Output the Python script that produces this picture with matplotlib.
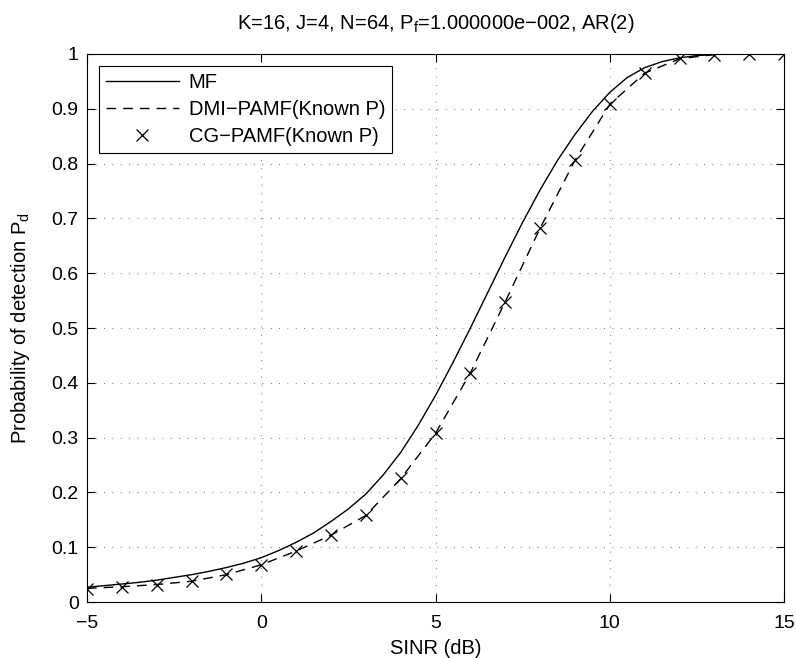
import numpy as np
import matplotlib.pyplot as plt

plt.rcParams['font.family'] = ['Liberation Sans', 'DejaVu Sans']
plt.rcParams['mathtext.default'] = 'regular'

# MF curve (dense)
sinr_mf = [-5, -4.5, -4, -3.5, -3, -2.5, -2, -1.5, -1, -0.5, 0, 0.5, 1, 1.5, 2, 2.5,
           3, 3.5, 4, 4.5, 5, 5.5, 6, 6.5, 7, 7.5, 8, 8.5, 9, 9.5, 10, 10.5, 11,
           11.5, 12, 12.5, 13, 13.5, 14, 14.5, 15]
pd_mf = [0.027, 0.030, 0.033, 0.036, 0.040, 0.045, 0.050, 0.056, 0.063, 0.071, 0.081,
         0.094, 0.109, 0.126, 0.147, 0.170, 0.197, 0.232, 0.273, 0.322, 0.377, 0.437,
         0.500, 0.565, 0.630, 0.693, 0.752, 0.806, 0.853, 0.895, 0.930, 0.957, 0.975,
         0.986, 0.993, 0.997, 0.999, 1.0, 1.0, 1.0, 1.0]

# DMI-PAMF and CG-PAMF (integer SINR points)
sinr = [-5, -4, -3, -2, -1, 0, 1, 2, 3, 4, 5, 6, 7, 8, 9, 10, 11, 12, 13, 14, 15]
pd_dmi = [0.025, 0.028, 0.032, 0.038, 0.050, 0.068, 0.093, 0.122, 0.158, 0.225, 0.308,
          0.418, 0.548, 0.682, 0.806, 0.908, 0.965, 0.991, 0.999, 1.0, 1.0]
pd_cg = [0.024, 0.028, 0.032, 0.038, 0.051, 0.068, 0.094, 0.123, 0.159, 0.226, 0.308,
         0.418, 0.548, 0.682, 0.806, 0.908, 0.966, 0.992, 0.999, 1.0, 1.0]

fig = plt.figure(figsize=(7.96, 6.58), dpi=100)
ax = fig.add_axes([0.1093, 0.085, 0.8757, 0.833])

ax.plot(sinr_mf, pd_mf, color='black', linewidth=1.0, label='MF')
ax.plot(sinr, pd_dmi, color='black', linewidth=1.0, linestyle=(0, (7, 5)),
        label='DMI\u2212PAMF(Known P)')
ax.plot(sinr, pd_cg, color='black', linestyle='none', marker='x', markersize=9,
        markeredgewidth=0.9, label='CG\u2212PAMF(Known P)')

ax.set_xlim(-5, 15)
ax.set_ylim(0, 1)
ax.set_xticks([-5, 0, 5, 10, 15])
ax.set_xticklabels(['\u22125', '0', '5', '10', '15'])
ax.set_yticks(np.arange(0, 1.01, 0.1))
ax.set_yticklabels(['0', '0.1', '0.2', '0.3', '0.4', '0.5', '0.6', '0.7', '0.8', '0.9', '1'])

ax.tick_params(direction='in', top=True, right=True, labelsize=14, length=6, width=0.8)
ax.tick_params(axis='x', pad=9)
ax.tick_params(axis='y', pad=6)
ax.grid(True, color='black', linestyle=(0, (1, 9)), linewidth=0.6, alpha=0.75)
for s in ax.spines.values():
    s.set_linewidth(0.8)

ax.set_xlabel('SINR (dB)', fontsize=14.5, labelpad=5)
ax.set_ylabel('Probability of detection P$_d$', fontsize=14.5, labelpad=14)
ax.set_title('K=16, J=4, N=64, P$_f$=1.000000e\u2212002, AR(2)', fontsize=14.5, pad=18)

leg = ax.legend(loc='upper left', fontsize=14.5, fancybox=False, framealpha=1,
                edgecolor='black', handlelength=3.6, borderpad=0.35, labelspacing=0.4,
                handletextpad=0.5, borderaxespad=0.6)
leg.get_frame().set_linewidth(0.8)

fig.savefig('out.png', dpi=100)
